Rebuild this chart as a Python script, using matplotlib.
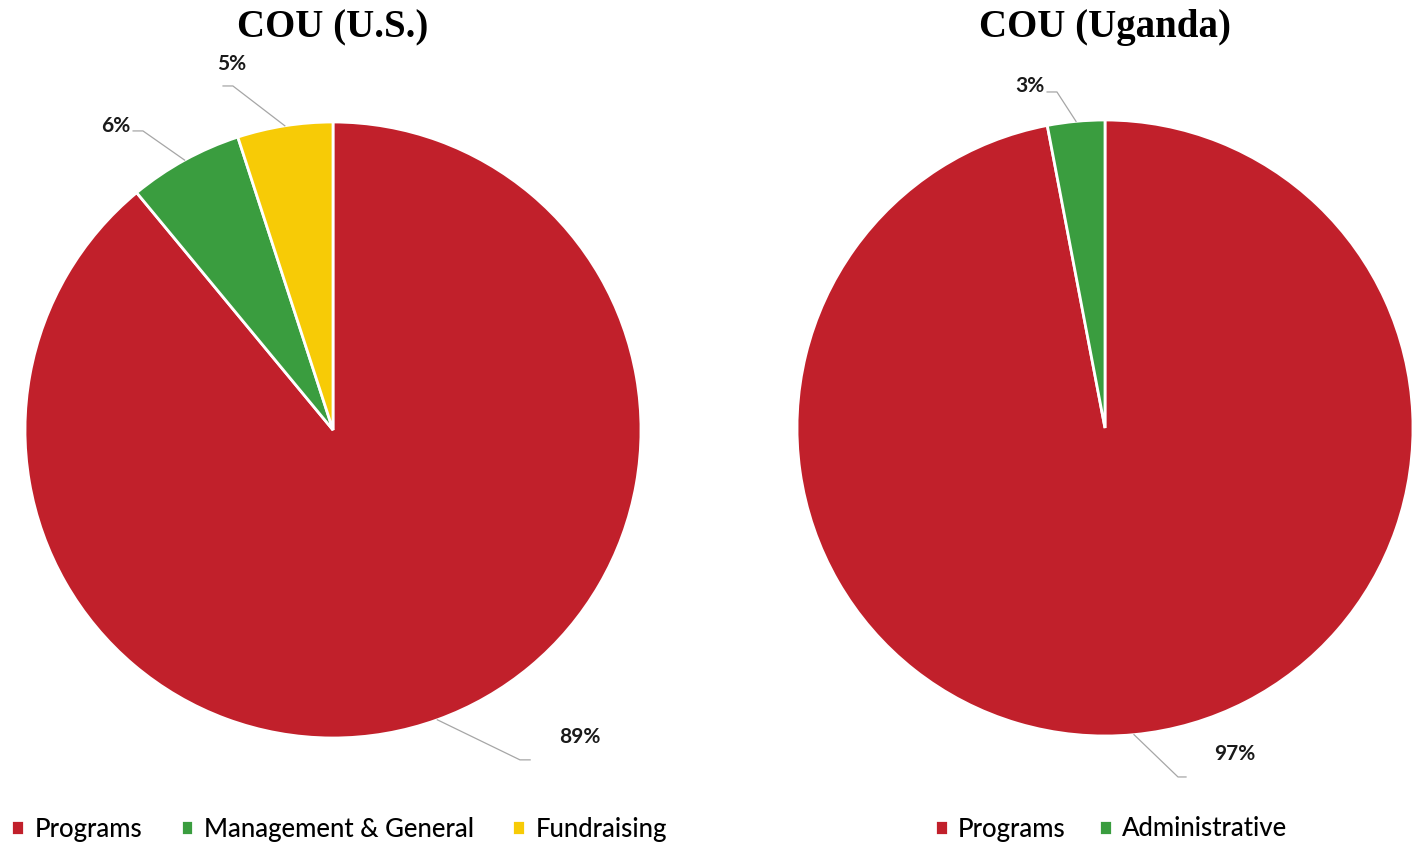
import numpy as np
import matplotlib
matplotlib.use("Agg")
import matplotlib.pyplot as plt

# data
us_labels = ["Programs", "Management & General", "Fundraising"]
us_values = [89, 6, 5]
ug_labels = ["Programs", "Administrative"]
ug_values = [97, 3]

red = "#C1202B"
green = "#3A9D3F"
yellow = "#F7CB06"
us_colors = [red, green, yellow]
ug_colors = [red, green]

# leader line / label layout (data units, pie radius = 1)
us_elbow = [(0.607, -1.071, 0.640), (-0.617, 0.971, -0.649), (-0.325, 1.117, -0.357)]
us_text = [(0.802, -0.997), (-0.705, 0.987), (-0.328, 1.188)]
ug_elbow = [(0.237, -1.133, 0.263), (-0.156, 1.091, -0.188)]
ug_text = [(0.422, -1.058), (-0.244, 1.110)]

W, H = 1421, 842
fig = plt.figure(figsize=(W / 100, H / 100), dpi=100)
R = 308.0
YL = 1.30


def make_ax(cx, cy, xl, xr):
    left = (cx - xl * R) / W
    bottom = (H - (cy + YL * R)) / H
    ax = fig.add_axes([left, bottom, (xl + xr) * R / W, 2 * YL * R / H])
    return ax


def draw(ax, values, colors, elbows, texts, xl, xr):
    wedges, _ = ax.pie(values, colors=colors, startangle=90, counterclock=False,
                       wedgeprops=dict(edgecolor="white", linewidth=2))
    # pie resets the limits, so set them afterwards
    ax.set_xlim(-xl, xr)
    ax.set_ylim(-YL, YL)
    ax.set_aspect("equal")
    ax.axis("off")
    for w, v, (ex, ey, ex2), (tx, ty) in zip(wedges, values, elbows, texts):
        ang = np.deg2rad((w.theta1 + w.theta2) / 2)
        px, py = np.cos(ang), np.sin(ang)
        ax.plot([px, ex, ex2], [py, ey, ey], color="#A6A6A6", lw=0.9,
                clip_on=False)
        ax.text(tx, ty, f"{v}%", ha="center", va="center", fontsize=15,
                fontweight="bold", family="Lato", color="#1a1a1a")
    return wedges


ax1 = make_ax(333, 430, 1.08, 1.15)
w1 = draw(ax1, us_values, us_colors, us_elbow, us_text, 1.08, 1.15)
ax2 = make_ax(1105, 428, 1.02, 1.02)
w2 = draw(ax2, ug_values, ug_colors, ug_elbow, ug_text, 1.02, 1.02)

fig.text(333 / W, 1 - 28 / H, "COU (U.S.)", ha="center", va="center", fontsize=28,
         fontweight="bold", family="Liberation Serif")
fig.text(1105 / W, 1 - 28 / H, "COU (Uganda)", ha="center", va="center", fontsize=28,
         fontweight="bold", family="Liberation Serif")

leg_kw = dict(loc="center", frameon=False, handlelength=0.5, handleheight=0.5,
              handletextpad=0.4,
              prop=dict(family="Lato", size=18.5, weight="medium"))
fig.legend(w1, us_labels, ncol=3, columnspacing=1.5,
           bbox_to_anchor=(339 / W, 1 - 829 / H), **leg_kw)
fig.legend(w2, ug_labels, ncol=2, columnspacing=1.3,
           bbox_to_anchor=(1111 / W, 1 - 829 / H), **leg_kw)

fig.savefig("out.png", dpi=100, facecolor="white")
